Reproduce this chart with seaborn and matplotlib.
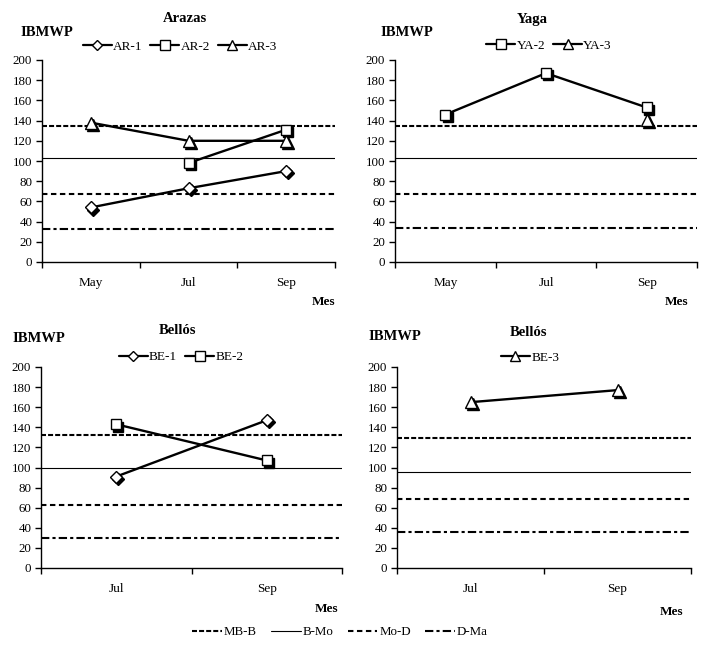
import numpy as np
import pandas as pd
import matplotlib
matplotlib.use("Agg")
import matplotlib.pyplot as plt
import matplotlib.transforms as mtransforms
from matplotlib.lines import Line2D
import seaborn as sns

# ---------------- data ----------------
months_3 = ["May", "Jul", "Sep"]
months_2 = ["Jul", "Sep"]

ar1 = [54, 73, 90]          # May, Jul, Sep
ar2 = [np.nan, 98, 131]
ar3 = [138, 120, 120]

ya2 = [146, 187, 153]
ya3 = [np.nan, np.nan, 141]

be1 = [91, 147]             # Jul, Sep
be2 = [143, 107]
be3 = [165, 177]

ref_names = ["MB-B", "B-Mo", "Mo-D", "D-Ma"]
ref_arazas = [135, 103, 67, 33]
ref_yaga = [135, 103, 67, 34]
ref_bellos12 = [132, 100, 63, 30]
ref_bellos3 = [129, 96, 69, 36]

titles = ["Arazas", "Yaga", "Bellós", "Bellós"]
y_ticks = list(range(0, 201, 20))

# ---------------- style ----------------
sns.set_theme(style="white")
plt.rcParams['font.family'] = ['Liberation Serif', 'DejaVu Serif']
plt.rcParams['axes.edgecolor'] = 'black'
plt.rcParams['axes.linewidth'] = 1.0
plt.rcParams['text.color'] = 'black'
plt.rcParams['xtick.color'] = 'black'
plt.rcParams['ytick.color'] = 'black'
plt.rcParams['xtick.labelcolor'] = 'black'
plt.rcParams['ytick.labelcolor'] = 'black'

ref_styles = {
    "MB-B": dict(ls=(0, (2.4, 1.0)), lw=1.5),
    "B-Mo": dict(ls='-', lw=0.8),
    "Mo-D": dict(ls=(0, (2.6, 1.7)), lw=1.5),
    "D-Ma": dict(ls=(0, (4.0, 1.5, 1.5, 1.5)), lw=1.5),
}
marker_info = {"diamond": ("D", 6.0), "square": ("s", 7.0), "triangle": ("^", 8.0)}

fig = plt.figure(figsize=(7.11, 6.69), dpi=100)

axes_rects = [
    [42 / 711, 1 - 262 / 669, 293 / 711, 202 / 669],
    [395 / 711, 1 - 262 / 669, 302 / 711, 202 / 669],
    [41 / 711, 1 - 568 / 669, 301 / 711, 201 / 669],
    [397 / 711, 1 - 568 / 669, 294 / 711, 201 / 669],
]

panels = [
    (months_3, [("AR-1", ar1, "diamond"), ("AR-2", ar2, "square"), ("AR-3", ar3, "triangle")], ref_arazas),
    (months_3, [("YA-2", ya2, "square"), ("YA-3", ya3, "triangle")], ref_yaga),
    (months_2, [("BE-1", be1, "diamond"), ("BE-2", be2, "square")], ref_bellos12),
    (months_2, [("BE-3", be3, "triangle")], ref_bellos3),
]

title_pos = [(185, 19), (532, 19), (177, 330), (528, 332)]
ib_pos = [(20, 33), (380, 33), (12, 338), (368, 337)]
mes_pos = [(335, 302), (688, 302), (338, 609), (683, 612)]
leg_pos = [(180, 47), (549, 46), (181, 357), (530, 358)]

for i, (months, series, refs) in enumerate(panels):
    ax = fig.add_axes(axes_rects[i])
    n = len(months)
    xpos = np.arange(n)

    # reference lines
    for name, val in zip(ref_names, refs):
        ax.axhline(val, color='black', zorder=1, **ref_styles[name])

    shadow = mtransforms.offset_copy(ax.transData, fig=fig, x=1.6, y=-1.6, units='points')
    handles = []
    for label, vals, mk in series:
        m, ms = marker_info[mk]
        df = pd.DataFrame({"x": xpos, "y": vals}).dropna()
        # marker shadows
        ax.plot(df["x"], df["y"], linestyle='none', marker=m, ms=ms, color='black',
                mec='black', mfc='black', transform=shadow, zorder=2.5)
        sns.lineplot(data=df, x="x", y="y", ax=ax, color='black', lw=1.7,
                     marker=m, markersize=ms, mfc='white', mec='black', mew=1.0,
                     zorder=3, legend=False)
        handles.append(Line2D([], [], color='black', lw=1.6, marker=m, markersize=ms - 0.5,
                              mfc='white', mec='black', mew=1.0, label=label))

    ax.set_xlim(-0.5, n - 0.5)
    ax.set_ylim(0, 200)
    ax.set_yticks(y_ticks)
    ax.set_yticklabels([str(v) for v in y_ticks], fontsize=9.3)
    ax.set_xticks(np.arange(-0.5, n, 1.0))
    ax.set_xticklabels([])
    ax.set_xticks(xpos, minor=True)
    ax.set_xticklabels(months, minor=True, fontsize=9.5)
    ax.tick_params(axis='x', which='major', direction='out', length=4, width=1, color='black', bottom=True)
    ax.tick_params(axis='x', which='minor', length=0, pad=11, bottom=True)
    ax.tick_params(axis='y', direction='out', length=4, width=1, color='black', left=True, pad=3)
    ax.set_xlabel("")
    ax.set_ylabel("")
    for s in ["top", "right"]:
        ax.spines[s].set_visible(False)
    ax.grid(False)

    tx, ty = title_pos[i]
    fig.text(tx / 711, 1 - ty / 669, titles[i], ha='center', va='center', fontsize=10.5, fontweight='bold')
    bx, by = ib_pos[i]
    fig.text(bx / 711, 1 - by / 669, "IBMWP", ha='left', va='center', fontsize=10.5, fontweight='bold')
    mx, my = mes_pos[i]
    fig.text(mx / 711, 1 - my / 669, "Mes", ha='right', va='center', fontsize=9.5, fontweight='bold')
    lx, ly = leg_pos[i]
    fig.legend(handles=handles, loc='center', bbox_to_anchor=(lx / 711, 1 - ly / 669),
               ncol=len(handles), frameon=False, fontsize=9.5, handlelength=2.2,
               handletextpad=0.1, columnspacing=0.6, borderpad=0)

ref_handles = [Line2D([], [], color='black', label=nm, **ref_styles[nm]) for nm in ref_names]
fig.legend(handles=ref_handles, loc='center', bbox_to_anchor=(340 / 711, 1 - 632 / 669),
           ncol=4, frameon=False, fontsize=9.3, handlelength=2.3, handletextpad=0.15,
           columnspacing=1.1, borderpad=0)

fig.savefig("out.png", dpi=100, facecolor='white')
